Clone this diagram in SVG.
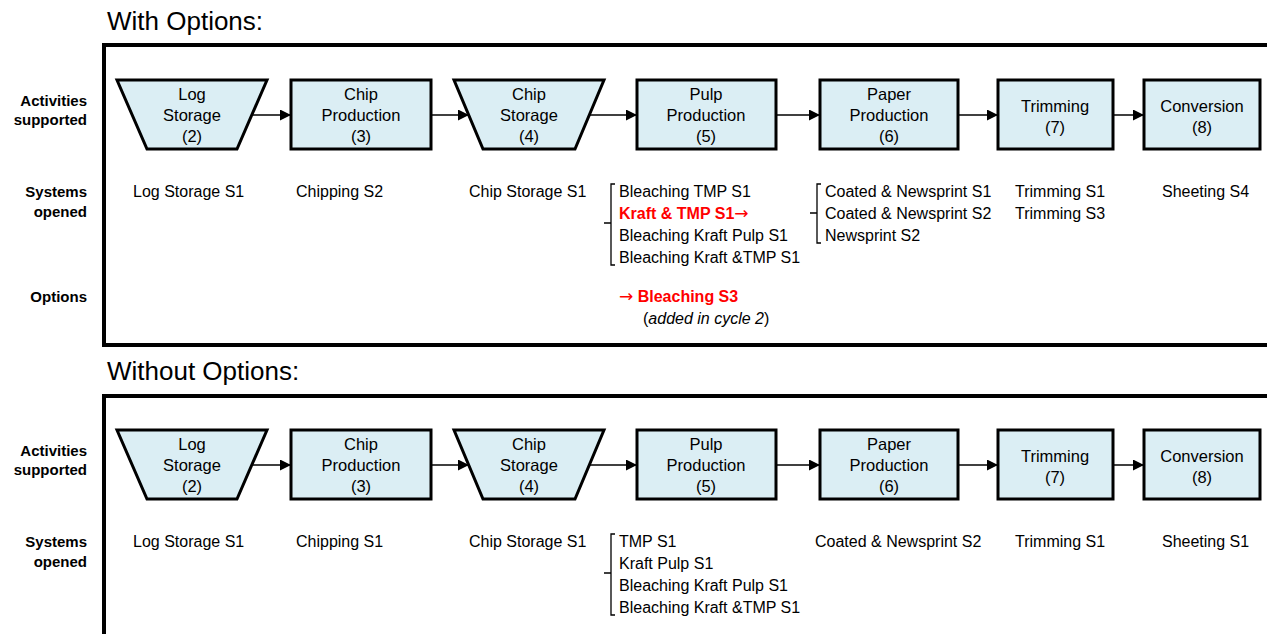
<svg xmlns="http://www.w3.org/2000/svg" width="1267" height="634" viewBox="0 0 1267 634">
<style>
text{font-family:"Liberation Sans",Arial,sans-serif;fill:#000}
.ttl{font-size:26px}
.lbl{font-size:15px;font-weight:bold;text-anchor:end}
.bx{font-size:16.5px;text-anchor:middle}
.t{font-size:16px}
.red{fill:#ff0000;font-weight:bold}
.arr{font-family:"DejaVu Sans",sans-serif;font-weight:normal;font-size:17px}
.shape{fill:#dbeef4;stroke:#000;stroke-width:3;stroke-linejoin:miter}
.frame{fill:none;stroke:#000;stroke-width:4}
.conn line{stroke:#000;stroke-width:1.5}
.brk{fill:none;stroke:#000;stroke-width:1.3}
</style>
<defs>
<marker id="ah" viewBox="0 0 10 10" refX="10" refY="5" markerWidth="11" markerHeight="11" markerUnits="userSpaceOnUse" orient="auto">
<path d="M0,0 L10,5 L0,10 Z" fill="#000"/>
</marker>
</defs>
<rect width="1267" height="634" fill="#fff"/>

<!-- ===== With Options ===== -->
<g id="top-section">
<text class="ttl" x="107" y="30">With Options:</text>
<rect class="frame" x="104" y="45" width="1220" height="300"/>
<text class="lbl" x="87" y="106">Activities</text>
<text class="lbl" x="87" y="125">supported</text>
<text class="lbl" x="87" y="197">Systems</text>
<text class="lbl" x="87" y="217">opened</text>
<text class="lbl" x="87" y="302">Options</text>
</g>

<g id="t-log">
<polygon class="shape" points="117,80 267,80 237,149 147,149"/>
<text class="bx" x="192" y="100">Log</text><text class="bx" x="192" y="121">Storage</text><text class="bx" x="192" y="142">(2)</text>
</g>
<g id="t-chipprod">
<rect class="shape" x="291" y="80" width="140" height="69"/>
<text class="bx" x="361" y="100">Chip</text><text class="bx" x="361" y="121">Production</text><text class="bx" x="361" y="142">(3)</text>
</g>
<g id="t-chipstor">
<polygon class="shape" points="454,80 604,80 575,149 483,149"/>
<text class="bx" x="529" y="100">Chip</text><text class="bx" x="529" y="121">Storage</text><text class="bx" x="529" y="142">(4)</text>
</g>
<g id="t-pulp">
<rect class="shape" x="637" y="80" width="139" height="69"/>
<text class="bx" x="706" y="100">Pulp</text><text class="bx" x="706" y="121">Production</text><text class="bx" x="706" y="142">(5)</text>
</g>
<g id="t-paper">
<rect class="shape" x="820" y="80" width="138" height="69"/>
<text class="bx" x="889" y="100">Paper</text><text class="bx" x="889" y="121">Production</text><text class="bx" x="889" y="142">(6)</text>
</g>
<g id="t-trim">
<rect class="shape" x="998" y="80" width="115" height="69"/>
<text class="bx" x="1055" y="112">Trimming</text><text class="bx" x="1055" y="133">(7)</text>
</g>
<g id="t-conv">
<rect class="shape" x="1144" y="80" width="116" height="69"/>
<text class="bx" x="1202" y="112">Conversion</text><text class="bx" x="1202" y="133">(8)</text>
</g>

<g id="t-systems">
<text class="t" x="133" y="197">Log Storage S1</text>
<text class="t" x="296" y="197">Chipping S2</text>
<text class="t" x="469" y="197">Chip Storage S1</text>
<path class="brk" d="M615,184 H611 V265 H615 M611,223 H604"/>
<text class="t" x="619" y="197">Bleaching TMP S1</text>
<text class="t red" x="619" y="219">Kraft &amp; TMP S1<tspan class="arr">→</tspan></text>
<text class="t" x="619" y="241">Bleaching Kraft Pulp S1</text>
<text class="t" x="619" y="263">Bleaching Kraft &amp;TMP S1</text>
<path class="brk" d="M821,184 H817 V243 H821 M817,213 H810"/>
<text class="t" x="825" y="197">Coated &amp; Newsprint S1</text>
<text class="t" x="825" y="219">Coated &amp; Newsprint S2</text>
<text class="t" x="825" y="241">Newsprint S2</text>
<text class="t" x="1015" y="197">Trimming S1</text>
<text class="t" x="1015" y="219">Trimming S3</text>
<text class="t" x="1162" y="197">Sheeting S4</text>
<text class="t red" x="619" y="302"><tspan class="arr">→</tspan> Bleaching S3</text>
<text class="t" x="643" y="324">(<tspan font-style="italic">added in cycle 2</tspan>)</text>
</g>

<!-- ===== Without Options ===== -->
<g id="bottom-section">
<text class="ttl" x="107" y="380">Without Options:</text>
<rect class="frame" x="104" y="396" width="1220" height="300"/>
<text class="lbl" x="87" y="456">Activities</text>
<text class="lbl" x="87" y="475">supported</text>
<text class="lbl" x="87" y="547">Systems</text>
<text class="lbl" x="87" y="567">opened</text>
</g>

<g id="b-log">
<polygon class="shape" points="117,430 267,430 237,499 147,499"/>
<text class="bx" x="192" y="450">Log</text><text class="bx" x="192" y="471">Storage</text><text class="bx" x="192" y="492">(2)</text>
</g>
<g id="b-chipprod">
<rect class="shape" x="291" y="430" width="140" height="69"/>
<text class="bx" x="361" y="450">Chip</text><text class="bx" x="361" y="471">Production</text><text class="bx" x="361" y="492">(3)</text>
</g>
<g id="b-chipstor">
<polygon class="shape" points="454,430 604,430 575,499 483,499"/>
<text class="bx" x="529" y="450">Chip</text><text class="bx" x="529" y="471">Storage</text><text class="bx" x="529" y="492">(4)</text>
</g>
<g id="b-pulp">
<rect class="shape" x="637" y="430" width="139" height="69"/>
<text class="bx" x="706" y="450">Pulp</text><text class="bx" x="706" y="471">Production</text><text class="bx" x="706" y="492">(5)</text>
</g>
<g id="b-paper">
<rect class="shape" x="820" y="430" width="138" height="69"/>
<text class="bx" x="889" y="450">Paper</text><text class="bx" x="889" y="471">Production</text><text class="bx" x="889" y="492">(6)</text>
</g>
<g id="b-trim">
<rect class="shape" x="998" y="430" width="115" height="69"/>
<text class="bx" x="1055" y="462">Trimming</text><text class="bx" x="1055" y="483">(7)</text>
</g>
<g id="b-conv">
<rect class="shape" x="1144" y="430" width="116" height="69"/>
<text class="bx" x="1202" y="462">Conversion</text><text class="bx" x="1202" y="483">(8)</text>
</g>

<g id="b-systems">
<text class="t" x="133" y="547">Log Storage S1</text>
<text class="t" x="296" y="547">Chipping S1</text>
<text class="t" x="469" y="547">Chip Storage S1</text>
<path class="brk" d="M615,534 H611 V615 H615 M611,573 H604"/>
<text class="t" x="619" y="547">TMP S1</text>
<text class="t" x="619" y="569">Kraft Pulp S1</text>
<text class="t" x="619" y="591">Bleaching Kraft Pulp S1</text>
<text class="t" x="619" y="613">Bleaching Kraft &amp;TMP S1</text>
<text class="t" x="815" y="547">Coated &amp; Newsprint S2</text>
<text class="t" x="1015" y="547">Trimming S1</text>
<text class="t" x="1162" y="547">Sheeting S1</text>
</g>

<g id="connectors" class="conn">
<line x1="252" y1="115" x2="291" y2="115" marker-end="url(#ah)"/>
<line x1="431" y1="115" x2="469" y2="115" marker-end="url(#ah)"/>
<line x1="589" y1="115" x2="637" y2="115" marker-end="url(#ah)"/>
<line x1="776" y1="115" x2="820" y2="115" marker-end="url(#ah)"/>
<line x1="958" y1="115" x2="998" y2="115" marker-end="url(#ah)"/>
<line x1="1113" y1="115" x2="1144" y2="115" marker-end="url(#ah)"/>
<line x1="252" y1="465" x2="291" y2="465" marker-end="url(#ah)"/>
<line x1="431" y1="465" x2="469" y2="465" marker-end="url(#ah)"/>
<line x1="589" y1="465" x2="637" y2="465" marker-end="url(#ah)"/>
<line x1="776" y1="465" x2="820" y2="465" marker-end="url(#ah)"/>
<line x1="958" y1="465" x2="998" y2="465" marker-end="url(#ah)"/>
<line x1="1113" y1="465" x2="1144" y2="465" marker-end="url(#ah)"/>
</g>
</svg>
